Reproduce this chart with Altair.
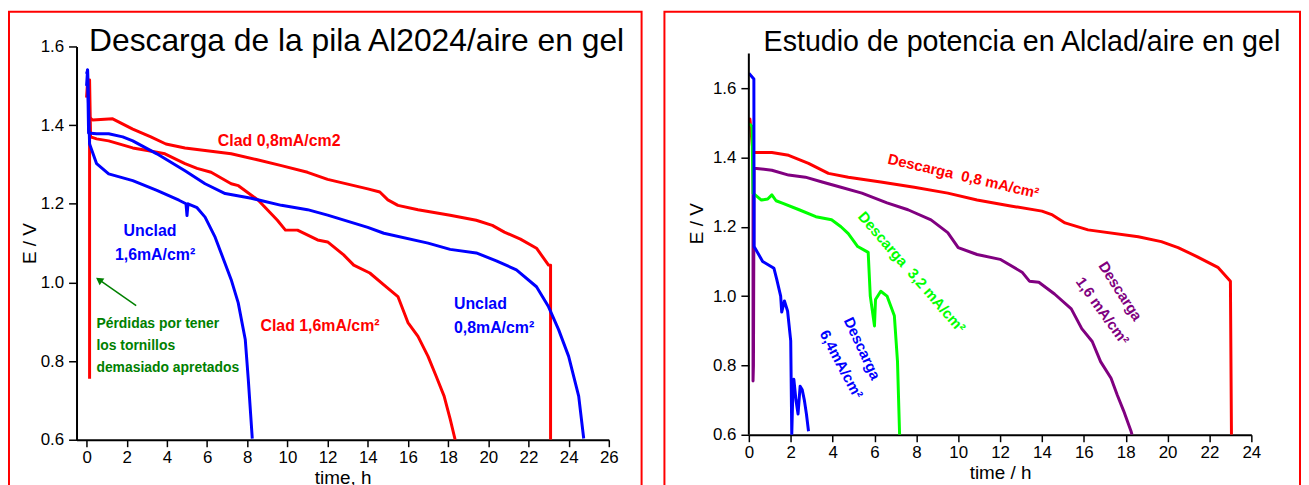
import altair as alt
import pandas as pd

FONT = "Liberation Sans"

# ---------------- Left panel: Descarga de la pila Al2024/aire en gel ----------------
clad08_t = [0.0, 0.05, 0.15, 0.3, 1.3, 2.3, 3.2, 3.95, 4.9, 6.0, 7.2, 8.5, 9.7, 11.0, 12.0, 13.0, 14.0,
            14.6, 15.0, 15.5, 16.5, 18.1, 19.4, 20.2, 20.8, 21.6, 22.4, 23.0, 23.1, 23.1]
clad08_E = [1.47, 1.51, 1.42, 1.413, 1.416, 1.39, 1.37, 1.352, 1.342, 1.335, 1.327, 1.312, 1.297, 1.28,
            1.262, 1.25, 1.238, 1.23, 1.21, 1.196, 1.185, 1.171, 1.158, 1.145, 1.128, 1.11, 1.087, 1.044,
            1.044, 0.6]

clad16_t = [0.15, 0.15, 0.2, 0.5, 1.1, 2.3, 3.1, 3.9, 4.9, 5.5, 6.2, 7.2, 7.56, 8.55, 9.5, 9.9, 10.5,
            11.5, 12.0, 12.8, 13.3, 14.1, 14.8, 15.5, 16.0, 16.5, 17.0, 17.4, 17.8, 18.1, 18.35]
clad16_E = [0.755, 1.515, 1.37, 1.365, 1.36, 1.342, 1.335, 1.327, 1.302, 1.29, 1.28, 1.251, 1.246, 1.209,
            1.158, 1.133, 1.133, 1.108, 1.103, 1.07, 1.044, 1.024, 0.994, 0.964, 0.898, 0.863, 0.812,
            0.762, 0.711, 0.653, 0.6]

unclad08_t = [0.0, 0.05, 0.1, 0.5, 1.1, 1.8, 2.3, 3.5, 4.9, 5.9, 6.9, 8.2, 9.7, 11.0, 12.0, 14.0, 14.8,
              17.0, 18.1, 19.4, 20.4, 21.4, 22.4, 23.0, 23.5, 24.0, 24.5, 24.75]
unclad08_E = [1.53, 1.54, 1.38, 1.378, 1.378, 1.37, 1.36, 1.327, 1.284, 1.251, 1.226, 1.214, 1.196, 1.185,
              1.171, 1.14, 1.125, 1.1, 1.084, 1.075, 1.055, 1.032, 0.989, 0.938, 0.88, 0.812, 0.711, 0.603]

unclad16_t = [0.0, 0.05, 0.15, 0.5, 1.1, 2.3, 3.5, 4.6, 4.95, 5.0, 5.05, 5.5, 5.9, 6.4, 7.2, 7.55, 7.9,
              8.05, 8.25]
unclad16_E = [1.50, 1.54, 1.352, 1.302, 1.276, 1.259, 1.234, 1.209, 1.2, 1.17, 1.2, 1.19, 1.166, 1.115,
              1.007, 0.948, 0.855, 0.754, 0.603]

left_names = ["Clad 0,8", "Clad 1,6", "Unclad 0,8", "Unclad 1,6"]
left_colors = ["#FF0000", "#FF0000", "#0000FF", "#0000FF"]

left_x_ticks = [0, 1, 2, 3, 4, 5, 6, 7, 8, 9, 10, 11, 12, 13, 14, 15, 16, 17, 18, 19, 20, 21, 22, 23,
                24, 25, 26]
left_y_ticks = [0.6, 0.7, 0.8, 0.9, 1.0, 1.1, 1.2, 1.3, 1.4, 1.5, 1.6]

# annotations (left)
lab_c_text = ["Clad 0,8mA/cm2", "Unclad", "1,6mA/cm²", "Clad 1,6mA/cm²"]
lab_c_t = [9.59, 3.16, 3.41, 11.62]
lab_c_E = [1.36, 1.130, 1.070, 0.888]
lab_c_color = ["#FF0000", "#0000FF", "#0000FF", "#FF0000"]

lab_l_text = ["Unclad", "0,8mA/cm²"]
lab_l_t = [18.29, 18.29]
lab_l_E = [0.946, 0.883]

note_text = ["Pérdidas por tener", "los tornillos", "demasiado apretados"]
note_t = [0.49, 0.49, 0.49]
note_E = [0.895, 0.837, 0.782]

arrow_t = [2.47, 0.67]
arrow_E = [0.941, 1.005]

# ---------------- Right panel: Estudio de potencia en Alclad/aire en gel ----------------
d08_t = [0.0, 0.05, 0.2, 1.1, 1.9, 2.85, 3.8, 4.75, 6.3, 7.9, 9.5, 10.9, 12.5, 14.0, 14.5, 15.1, 16.2,
         18.6, 19.7, 20.5, 21.4, 22.4, 23.0, 23.05]
d08_E = [1.49, 1.511, 1.414, 1.414, 1.406, 1.383, 1.354, 1.343, 1.329, 1.314, 1.297, 1.277, 1.26, 1.245,
         1.234, 1.211, 1.191, 1.171, 1.157, 1.14, 1.114, 1.083, 1.043, 0.6]

d16_t = [0.1, 0.2, 0.2, 0.22, 0.25, 1.1, 1.9, 2.7, 3.5, 4.4, 5.4, 6.6, 7.6, 8.7, 9.5, 10.0, 10.9, 12.0,
         13.05, 13.4, 13.85, 14.6, 15.4, 15.9, 16.4, 16.8, 17.3, 17.6, 17.9, 18.25, 18.3]
d16_E = [1.47, 1.47, 0.755, 0.8, 1.369, 1.363, 1.349, 1.343, 1.329, 1.314, 1.297, 1.269, 1.249, 1.22,
         1.183, 1.14, 1.12, 1.106, 1.069, 1.043, 1.04, 1.006, 0.963, 0.906, 0.869, 0.811, 0.763, 0.714,
         0.669, 0.611, 0.6]

d32_t = [0.0, 0.15, 0.2, 0.6, 0.9, 1.1, 1.3, 1.6, 2.4, 3.2, 3.95, 4.4, 4.75, 5.2, 5.7, 5.8, 6.0, 6.05,
         6.3, 6.6, 6.95, 7.1, 7.2]
d32_E = [1.497, 1.49, 1.297, 1.277, 1.28, 1.292, 1.275, 1.268, 1.249, 1.229, 1.22, 1.2, 1.18, 1.143,
         1.126, 1.0, 0.914, 0.99, 1.014, 1.0, 0.943, 0.811, 0.6]

d64_t = [0.0, 0.24, 0.25, 0.66, 1.04, 1.2, 1.33, 1.52, 1.57, 1.7, 1.85, 2.0, 2.03, 2.05, 2.1, 2.15, 2.25,
         2.35, 2.45, 2.55, 2.65, 2.75, 2.85]
d64_E = [1.643, 1.626, 1.143, 1.1, 1.086, 1.08, 1.049, 1.0, 0.954, 0.986, 0.957, 0.871, 0.709, 0.6, 0.72,
         0.76, 0.70, 0.66, 0.74, 0.73, 0.70, 0.66, 0.61]

right_names = ["0,8", "1,6", "3,2", "6,4"]
right_colors = ["#FF0000", "#800080", "#00FF00", "#0000FF"]

right_x_ticks = [0, 1, 2, 3, 4, 5, 6, 7, 8, 9, 10, 11, 12, 13, 14, 15, 16, 17, 18, 19, 20, 21, 22, 23, 24]
right_y_ticks = [0.6, 0.7, 0.8, 0.9, 1.0, 1.1, 1.2, 1.3, 1.4, 1.5, 1.6, 1.7]
right_y_axis_span = [0.6, 1.7]

rlab_text = ["Descarga\u00a0 0,8 mA/cm²", "Descarga\u00a0 3,2 mA/cm²", "Descarga", "6,4mA/cm²",
             "Descarga", "1,6 mA/cm²"]
rlab_t = [10.25, 7.78, 5.41, 4.41, 17.74, 16.89]
rlab_E = [1.346, 1.069, 0.849, 0.803, 1.014, 0.957]
rlab_angle = [13, 49, 65, 62, 57, 54]
rlab_color = ["#FF0000", "#00FF00", "#0000FF", "#0000FF", "#800080", "#800080"]


def series_frame(names, ts, Es):
    rows = []
    for name, tt, ee in zip(names, ts, Es):
        for i, (t, e) in enumerate(zip(tt, ee)):
            rows.append({"s": name, "t": t, "E": e, "i": i})
    return pd.DataFrame(rows)


MAJ_Y = "abs(datum.value*5 - round(datum.value*5)) < 0.001"
MAJ_X = "datum.value % 2 == 0"


def x_axis(ticks, title):
    return alt.Axis(values=ticks, title=title, grid=False, labelOverlap=False, labelFlush=False,
                    labelExpr=f"{MAJ_X} ? format(datum.value, 'd') : ''",
                    tickSize={"condition": {"test": MAJ_X, "value": 7}, "value": 4},
                    labelPadding=3, titlePadding=3)


def y_axis(ticks, title, tpad, **kw):
    return alt.Axis(values=ticks, title=title, grid=False, labelOverlap=False, labelFlush=False,
                    labelExpr=f"{MAJ_Y} ? format(datum.value, '.1f') : ''",
                    tickSize={"condition": {"test": MAJ_Y, "value": 8}, "value": 4},
                    labelPadding=5, titlePadding=tpad, **kw)


one = pd.DataFrame({"a": [0]})

# ---------- left chart ----------
dfL = series_frame(left_names, [clad08_t, clad16_t, unclad08_t, unclad16_t],
                   [clad08_E, clad16_E, unclad08_E, unclad16_E])
xL = alt.X("t:Q", scale=alt.Scale(domain=[-0.5, 26], nice=False, zero=False),
           axis=x_axis(left_x_ticks, "time, h"))
yL = alt.Y("E:Q", scale=alt.Scale(domain=[0.6, 1.6], nice=False, zero=False),
           axis=y_axis(left_y_ticks, "E / V", 1))

linesL = alt.Chart(dfL).mark_line(strokeWidth=3, clip=True, strokeJoin="round").encode(
    x=xL, y=yL,
    color=alt.Color("s:N", scale=alt.Scale(domain=left_names, range=left_colors), legend=None),
    order="i:Q")

labC = alt.Chart(pd.DataFrame({"text": lab_c_text, "t": lab_c_t, "E": lab_c_E, "c": lab_c_color})).mark_text(
    font=FONT, fontWeight="bold", fontSize=16, align="center", baseline="middle").encode(
    x="t:Q", y="E:Q", text="text:N", color=alt.Color("c:N", scale=None))

labL = alt.Chart(pd.DataFrame({"text": lab_l_text, "t": lab_l_t, "E": lab_l_E})).mark_text(
    font=FONT, fontWeight="bold", fontSize=16, align="left", baseline="middle", color="#0000FF").encode(
    x="t:Q", y="E:Q", text="text:N")

notes = alt.Chart(pd.DataFrame({"text": note_text, "t": note_t, "E": note_E})).mark_text(
    font=FONT, fontWeight="bold", fontSize=14, align="left", baseline="middle", color="#008000").encode(
    x="t:Q", y="E:Q", text="text:N")

arrow_df = pd.DataFrame({"t": arrow_t, "E": arrow_E, "i": [0, 1]})
arrow_line = alt.Chart(arrow_df).mark_line(color="#008000", strokeWidth=1.5).encode(
    x="t:Q", y="E:Q", order="i:Q")
arrow_head = alt.Chart(arrow_df.iloc[[1]]).mark_point(
    shape="triangle", filled=True, size=70, color="#008000", opacity=1).encode(
    x="t:Q", y="E:Q", angle=alt.value(305))

titleL = alt.Chart(one).mark_text(text="Descarga de la pila Al2024/aire en gel", font=FONT,
                                  fontSize=32, align="center", baseline="alphabetic", color="black").encode(
    x=alt.value(282), y=alt.value(5))

frameL = alt.Chart(one).mark_rect(fillOpacity=0, stroke="#FF0000", strokeWidth=2).encode(
    x=alt.value(-68), x2=alt.value(569), y=alt.value(-35), y2=alt.value(460))

left = alt.layer(frameL, linesL, labC, labL, notes, arrow_line, arrow_head, titleL).properties(
    width=536, height=396)

# ---------- right chart ----------
dfR = series_frame(right_names, [d08_t, d16_t, d32_t, d64_t], [d08_E, d16_E, d32_E, d64_E])
xR = alt.X("t:Q", scale=alt.Scale(domain=[0, 24], nice=False, zero=False),
           axis=x_axis(right_x_ticks, "time / h"))
yR = alt.Y("E:Q", scale=alt.Scale(domain=[0.6, 1.72], nice=False, zero=False),
           axis=y_axis(right_y_ticks, "E / V", 6, domain=False, titleY=178))

linesR = alt.Chart(dfR).mark_line(strokeWidth=3, clip=True, strokeJoin="round").encode(
    x=xR, y=yR,
    color=alt.Color("s:N", scale=alt.Scale(domain=right_names, range=right_colors), legend=None),
    order="i:Q")

axis_rule = alt.Chart(pd.DataFrame({"lo": [right_y_axis_span[0]], "hi": [right_y_axis_span[1]]})).mark_rule(
    color="black", strokeWidth=2).encode(x=alt.value(0), y="lo:Q", y2="hi:Q")

labR = alt.Chart(pd.DataFrame({"text": rlab_text, "t": rlab_t, "E": rlab_E, "a": rlab_angle,
                               "c": rlab_color})).mark_text(
    font=FONT, fontWeight="bold", fontSize=15, align="center", baseline="middle").encode(
    x="t:Q", y="E:Q", text="text:N", color=alt.Color("c:N", scale=None),
    angle=alt.Angle("a:Q", scale=None))

titleR = alt.Chart(one).mark_text(text="Estudio de potencia en Alclad/aire en gel", font=FONT,
                                  fontSize=28.8, align="center", baseline="alphabetic", color="black").encode(
    x=alt.value(275), y=alt.value(5))

frameR = alt.Chart(one).mark_rect(fillOpacity=0, stroke="#FF0000", strokeWidth=2).encode(
    x=alt.value(-85), x2=alt.value(555), y=alt.value(-35), y2=alt.value(460))

right = alt.layer(frameR, linesR, axis_rule, labR, titleR).properties(width=506, height=391)

chart = alt.hconcat(left, right, spacing=21).resolve_scale(color="independent").properties(
    padding={"left": 0, "top": 1, "right": 0, "bottom": 0},
    background="white"
).configure_view(stroke=None).configure_axis(
    labelFont=FONT, titleFont=FONT, labelFontSize=17, titleFontSize=19, titleFontWeight="normal",
    labelColor="black", titleColor="black", domainColor="black", domainWidth=2,
    tickColor="black", tickWidth=1.5
)

chart.save("out.html", embed_options={"renderer": "svg", "actions": False})
